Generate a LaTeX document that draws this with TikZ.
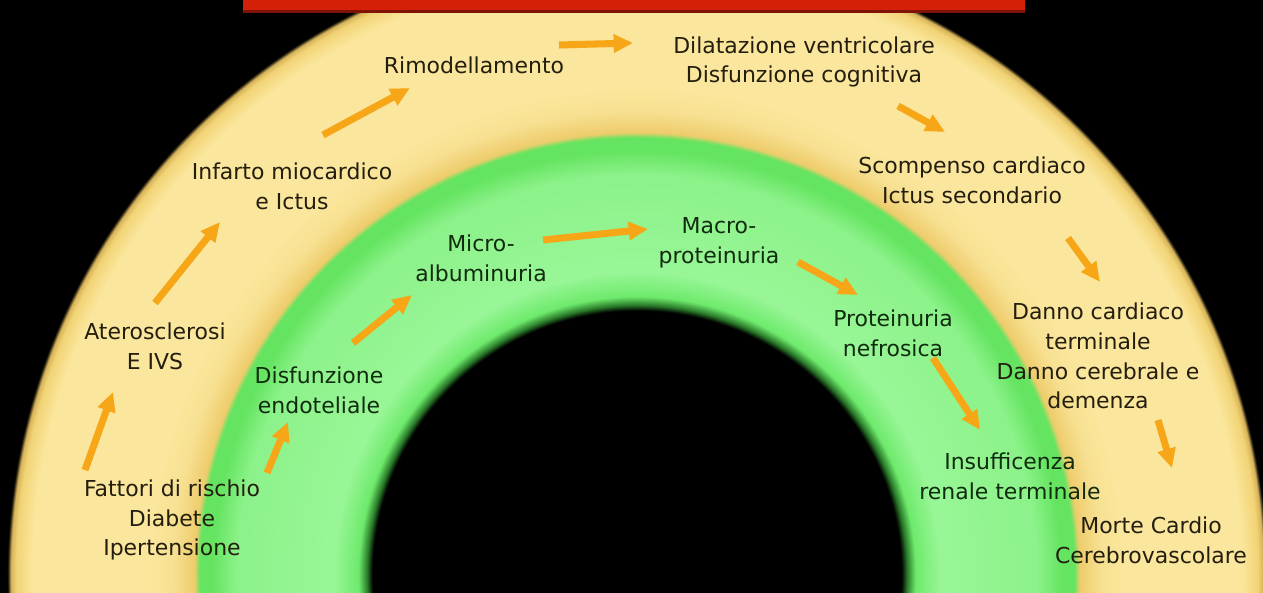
\documentclass[tikz,border=0pt]{standalone}
\usepackage{fontspec}
\setmainfont{DejaVu Sans}
\usetikzlibrary{arrows.meta,calc}
\definecolor{pfeilorange}{RGB}{246,166,22}
\definecolor{balkenrot}{RGB}{212,32,8}
\definecolor{textdunkel}{RGB}{36,30,14}
\definecolor{textgruen}{RGB}{16,44,14}
\definecolor{gruendunkel}{RGB}{40,120,40}
\definecolor{gruenkante}{RGB}{110,234,108}
\definecolor{gruenhell}{RGB}{152,246,150}
\definecolor{gruenmitte}{RGB}{140,242,138}
\definecolor{gruenaussen}{RGB}{100,228,96}
\definecolor{gelborange}{RGB}{238,204,108}
\definecolor{gelbinnen}{RGB}{247,224,145}
\definecolor{gelb}{RGB}{250,230,156}
\definecolor{gelbrand}{RGB}{242,212,118}
\definecolor{gelbdunkel}{RGB}{215,180,90}
% Ringe als radiale Schattierung (1px = 0.5669bp)
\pgfdeclareradialshading{ringe}{\pgfpointorigin}{%
  color(0bp)=(black); color(150bp)=(black);
  color(153bp)=(gruendunkel); color(158bp)=(gruenkante);
  color(172bp)=(gruenhell); color(227bp)=(gruenmitte);
  color(241bp)=(gruenaussen); color(248bp)=(gruenaussen);
  color(251bp)=(gelborange); color(263bp)=(gelbinnen);
  color(276bp)=(gelb); color(343bp)=(gelb);
  color(352bp)=(gelbrand); color(355bp)=(gelbdunkel);
  color(357bp)=(black); color(397bp)=(black)}

\begin{document}
\begin{tikzpicture}[x=0.02cm, y=-0.02cm,
		>={Triangle[length=11pt,width=10pt]},
		pfeil/.style={->, line width=4pt, color=pfeilorange},
		gelbtext/.style={align=center, inner sep=1pt, text=textdunkel,
			font=\fontsize{12.5}{17}\selectfont},
		gruentext/.style={gelbtext, text=textgruen}]
	% Hintergrund
	\useasboundingbox (0,0) rectangle (1263,592);
	\fill[black] (0,0) rectangle (1263,592);
	\clip (0,0) rectangle (1263,592);
	% Ringe
	\node[inner sep=0pt] (ringe) at (637,575) {\pgfuseshading{ringe}};
	% roter Balken
	\fill[balkenrot!60!black] (243,0) rectangle (1025,13);
	\fill[balkenrot] (243,0) rectangle (1025,10);
	% aeusserer Ring
	\node[gelbtext] (fattori) at (172,520) {Fattori di rischio\\Diabete\\Ipertensione};
	\node[gelbtext] (ateros)  at (155,346) {Aterosclerosi\\E IVS};
	\node[gelbtext] (infarto) at (292,186) {Infarto miocardico\\e Ictus};
	\node[gelbtext] (rimod)   at (474,65)  {Rimodellamento};
	\node[gelbtext] (dilat)   at (804,62)  {Dilatazione ventricolare\\Disfunzione cognitiva};
	\node[gelbtext] (scomp)   at (972,180) {Scompenso cardiaco\\Ictus secondario};
	\node[gelbtext] (danno)   at (1098,356) {Danno cardiaco\\terminale\\Danno cerebrale e\\demenza};
	\node[gelbtext] (morte)   at (1151,540) {Morte Cardio\\Cerebrovascolare};
	% innerer Ring
	\node[gruentext] (disf)   at (319,390) {Disfunzione\\endoteliale};
	\node[gruentext] (micro)  at (481,258) {Micro-\\albuminuria};
	\node[gruentext] (macro)  at (719,243) {Macro-\\proteinuria};
	\node[gruentext] (prot)   at (893,333) {Proteinuria\\nefrosica};
	\node[gruentext] (insuff) at (1010,476) {Insufficenza\\renale terminale};
	% Pfeile: Start/Ziel relativ zu den Knoten
	\foreach \a/\sa/\b/\sb in {fattori/{-87,-50}/ateros/{-42,46},
			ateros/{0,-43}/infarto/{-72,36},
			infarto/{31,-51}/rimod/{-64,23},
			rimod/{85,-20}/dilat/{-171,-19},
			dilat/{94,44}/scomp/{-27,-48},
			scomp/{96,58}/danno/{2,-74},
			danno/{60,64}/morte/{21,-72},
			fattori/{95,-47}/disf/{-31,32},
			disf/{34,-47}/micro/{-69,37},
			micro/{62,-18}/macro/{-71,-14},
			macro/{79,19}/prot/{-35,-38},
			prot/{40,25}/insuff/{-30,-46}}
		\draw[pfeil] ($(\a)+(\sa)$) -- ($(\b)+(\sb)$);
\end{tikzpicture}
\end{document}
